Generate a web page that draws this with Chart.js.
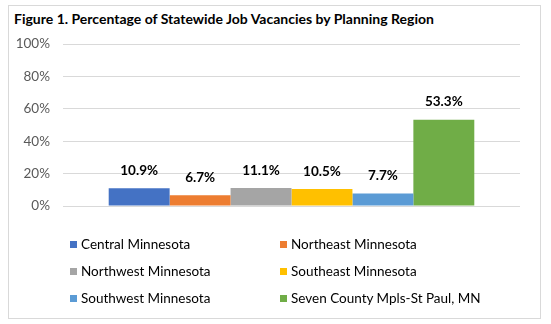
<!DOCTYPE html>
<html>
<head>
<meta charset="utf-8">
<script src="https://cdn.jsdelivr.net/npm/chart.js@4.4.1/dist/chart.umd.min.js"></script>
<style>
  html, body { margin: 0; padding: 0; background: #fff; }
  #wrap { position: relative; width: 551px; height: 324px; font-family: Lato, 'Liberation Sans', sans-serif; }
  #frame { position: absolute; left: 8px; top: 5px; width: 531px; height: 312px; border: 1px solid #d9d9d9; }
  #title { position: absolute; left: 14px; top: 10px; font-size: 14px; font-weight: bold; color: #000; white-space: nowrap; }
  #chart { position: absolute; left: 0; top: 0; }
  #legend { position: absolute; left: 70px; top: 235px; width: 460px; }
  .item { position: absolute; font-size: 13.5px; color: #000; white-space: nowrap; line-height: 18px; }
  .box { display: inline-block; width: 7px; height: 7px; margin-right: 4px; vertical-align: 1px; }
</style>
</head>
<body>
<div id="wrap">
  <div id="frame"></div>
  <div id="title">Figure 1. Percentage of Statewide Job Vacancies by Planning Region</div>
  <canvas id="chart" width="551" height="324"></canvas>
  <div id="legend"></div>
</div>
<script>
// regions in legend order, share of statewide vacancies (%)
const regions = [
  'Central Minnesota',
  'Northeast Minnesota',
  'Northwest Minnesota',
  'Southeast Minnesota',
  'Southwest Minnesota',
  'Seven County Mpls-St Paul, MN'
];
const shares = [10.9, 6.7, 11.1, 10.5, 7.7, 53.3];
const colors = ['#4472C4', '#ED7D31', '#A5A5A5', '#FFC000', '#5B9BD5', '#70AD47'];
const yTicks = [0, 20, 40, 60, 80, 100];

// bold value labels above each bar
const valueLabels = {
  id: 'valueLabels',
  afterDatasetsDraw(chart) {
    const ctx = chart.ctx;
    ctx.save();
    ctx.font = 'bold 13.5px Lato, sans-serif';
    ctx.fillStyle = '#000';
    ctx.textAlign = 'center';
    ctx.textBaseline = 'bottom';
    chart.data.datasets.forEach((ds, i) => {
      const bar = chart.getDatasetMeta(i).data[0];
      if (!bar) return;
      ctx.fillText(ds.data[0].toFixed(1) + '%', bar.x, bar.y - 11);
    });
    ctx.restore();
  }
};

const chart = new Chart(document.getElementById('chart'), {
  type: 'bar',
  data: {
    labels: [''],
    datasets: regions.map((name, i) => ({
      label: name,
      data: [shares[i]],
      backgroundColor: colors[i],
      borderWidth: 0,
      categoryPercentage: 0.8,
      barPercentage: 1
    }))
  },
  options: {
    responsive: false,
    animation: false,
    devicePixelRatio: 1,
    layout: { padding: { top: 44, bottom: 118, left: 0, right: 31 } },
    plugins: { legend: { display: false }, tooltip: { enabled: false } },
    scales: {
      x: { display: false },
      y: {
        min: 0,
        max: 100,
        afterFit(scale) { scale.width = 63; },
        afterBuildTicks(scale) { scale.ticks = yTicks.map(v => ({ value: v })); },
        border: { display: false },
        grid: { color: '#d9d9d9', drawTicks: false, lineWidth: 1 },
        ticks: {
          padding: 13,
          color: '#595959',
          font: { family: 'Lato, sans-serif', size: 13.5 },
          callback: (v) => v + '%'
        }
      }
    }
  },
  plugins: [valueLabels]
});

// two-column legend built from the chart's datasets
const legend = document.getElementById('legend');
chart.data.datasets.forEach((ds, i) => {
  const el = document.createElement('div');
  el.className = 'item';
  el.style.left = (i % 2 ? 210 : 0) + 'px';
  el.style.top = (Math.floor(i / 2) * 27) + 'px';
  el.innerHTML = '<span class="box" style="background:' + ds.backgroundColor + '"></span>' + ds.label;
  legend.appendChild(el);
});
</script>
</body>
</html>
